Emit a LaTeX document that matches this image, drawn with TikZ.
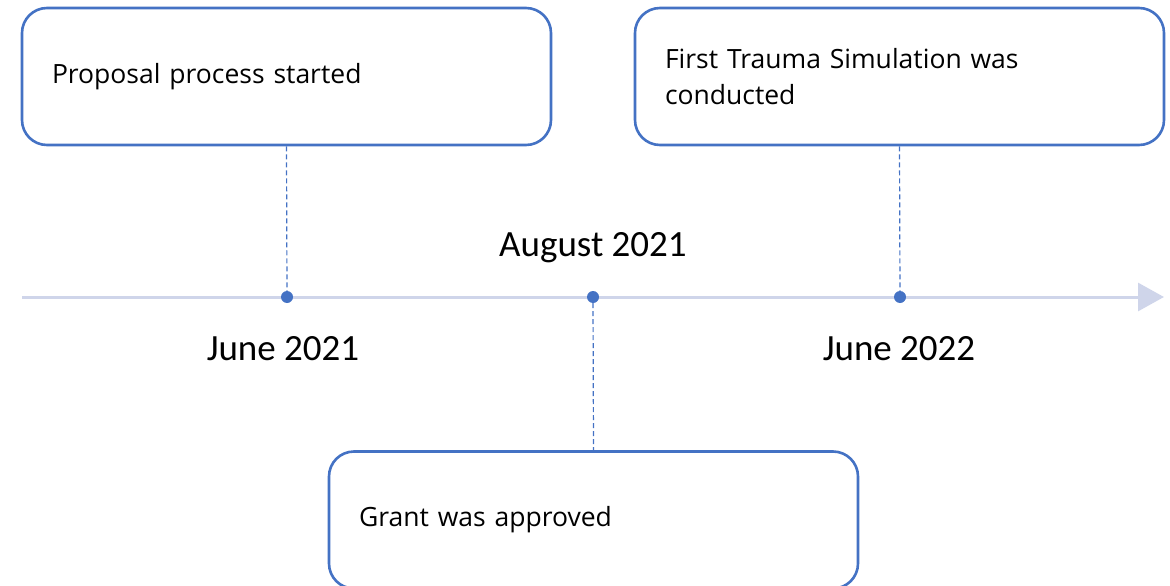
\documentclass[tikz,border=0pt]{standalone}
\usepackage{fontspec}
\setmainfont{Carlito}
\newfontfamily\boxfont{Open Sans}
\usetikzlibrary{arrows.meta,positioning}
\definecolor{evblue}{HTML}{4472C4}
\definecolor{axisgray}{HTML}{CFD5EA}
\tikzset{
  eventbox/.style={draw=evblue, line width=2.6pt, rounded corners=25pt, fill=white,
    minimum width=529pt, minimum height=137pt, text width=469pt, align=left,
    font=\boxfont\fontsize{26.5}{36}\selectfont, inner xsep=30pt},
  evdot/.style={circle, fill=evblue, inner sep=0pt, minimum size=12pt},
  evlink/.style={evblue, line width=1.2pt, dash pattern=on 5pt off 3pt},
  datelabel/.style={font=\fontsize{37}{42}\selectfont}
}
\begin{document}
\begin{tikzpicture}[x=1pt,y=-1pt]
\useasboundingbox (0,0) rectangle (1170,586);
% time axis
\coordinate (axisstart) at (22,297);
\coordinate (axisend) at (1164,297);
\draw[axisgray, line width=3pt, -{Triangle[length=26pt,width=28pt]}] (axisstart) -- (axisend);
% events on the axis
\node[evdot] (dotA) at (287,297) {};
\node[evdot] (dotB) at (593,297) {};
\node[evdot] (dotC) at (900,297) {};
% boxes
\node[eventbox] (boxA) at (286.5,76.5) {Proposal process started};
\node[eventbox] (boxC) at (899.5,76.5) {First Trauma Simulation was\\conducted};
\node[eventbox] (boxB) at (593.5,520) {Grant was approved};
% dashed links
\draw[evlink] (boxA.south) -- (dotA);
\draw[evlink] (boxC.south) -- (dotC);
\draw[evlink] (dotB) -- (boxB.north);
% dates
\node[datelabel] (dateA) at (283,349) {June 2021};
\node[datelabel] (dateB) at (593,248) {August 2021};
\node[datelabel] (dateC) at (899,349) {June 2022};
\end{tikzpicture}
\end{document}
